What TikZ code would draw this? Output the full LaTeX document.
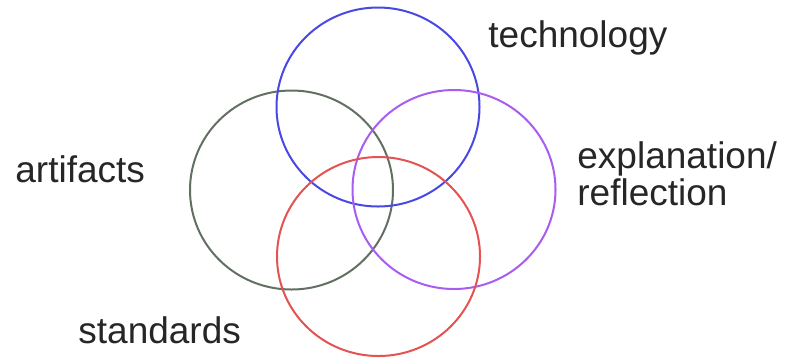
\documentclass[tikz,border=0pt]{standalone}
\usepackage{fontspec}
\setmainfont{Liberation Sans}
\usetikzlibrary{shapes.geometric}
\definecolor{techblue}{RGB}{72,72,228}
\definecolor{explpurple}{RGB}{168,92,240}
\definecolor{artgreen}{RGB}{98,112,98}
\definecolor{stdred}{RGB}{228,82,82}
\begin{document}
\begin{tikzpicture}[
    x=0.5pt, y=-0.5pt,
    ring/.style={ellipse, draw, line width=1pt, minimum width=101.5pt, minimum height=99.5pt, inner sep=0pt},
    label/.style={anchor=base west, inner sep=0pt, font=\fontsize{18.5}{16.5}\selectfont, text=black!85, align=left},
]
\useasboundingbox (0,0) rectangle (785,361);
\node[ring, draw=artgreen] (art) at (291.5,190) {};
\node[ring, draw=techblue] (tech) at (378,107) {};
\node[ring, draw=explpurple] (expl) at (454,189.5) {};
\node[ring, draw=stdred] (std) at (378.5,256.5) {};

\node[label] (techtxt) at (488,47) {technology};
\node[label] (arttxt) at (15,182) {artifacts};
\node[label] (expltxt) at (577,205) {explanation/\\reflection};
\node[label] (stdtxt) at (78,343) {standards};
\end{tikzpicture}
\end{document}
